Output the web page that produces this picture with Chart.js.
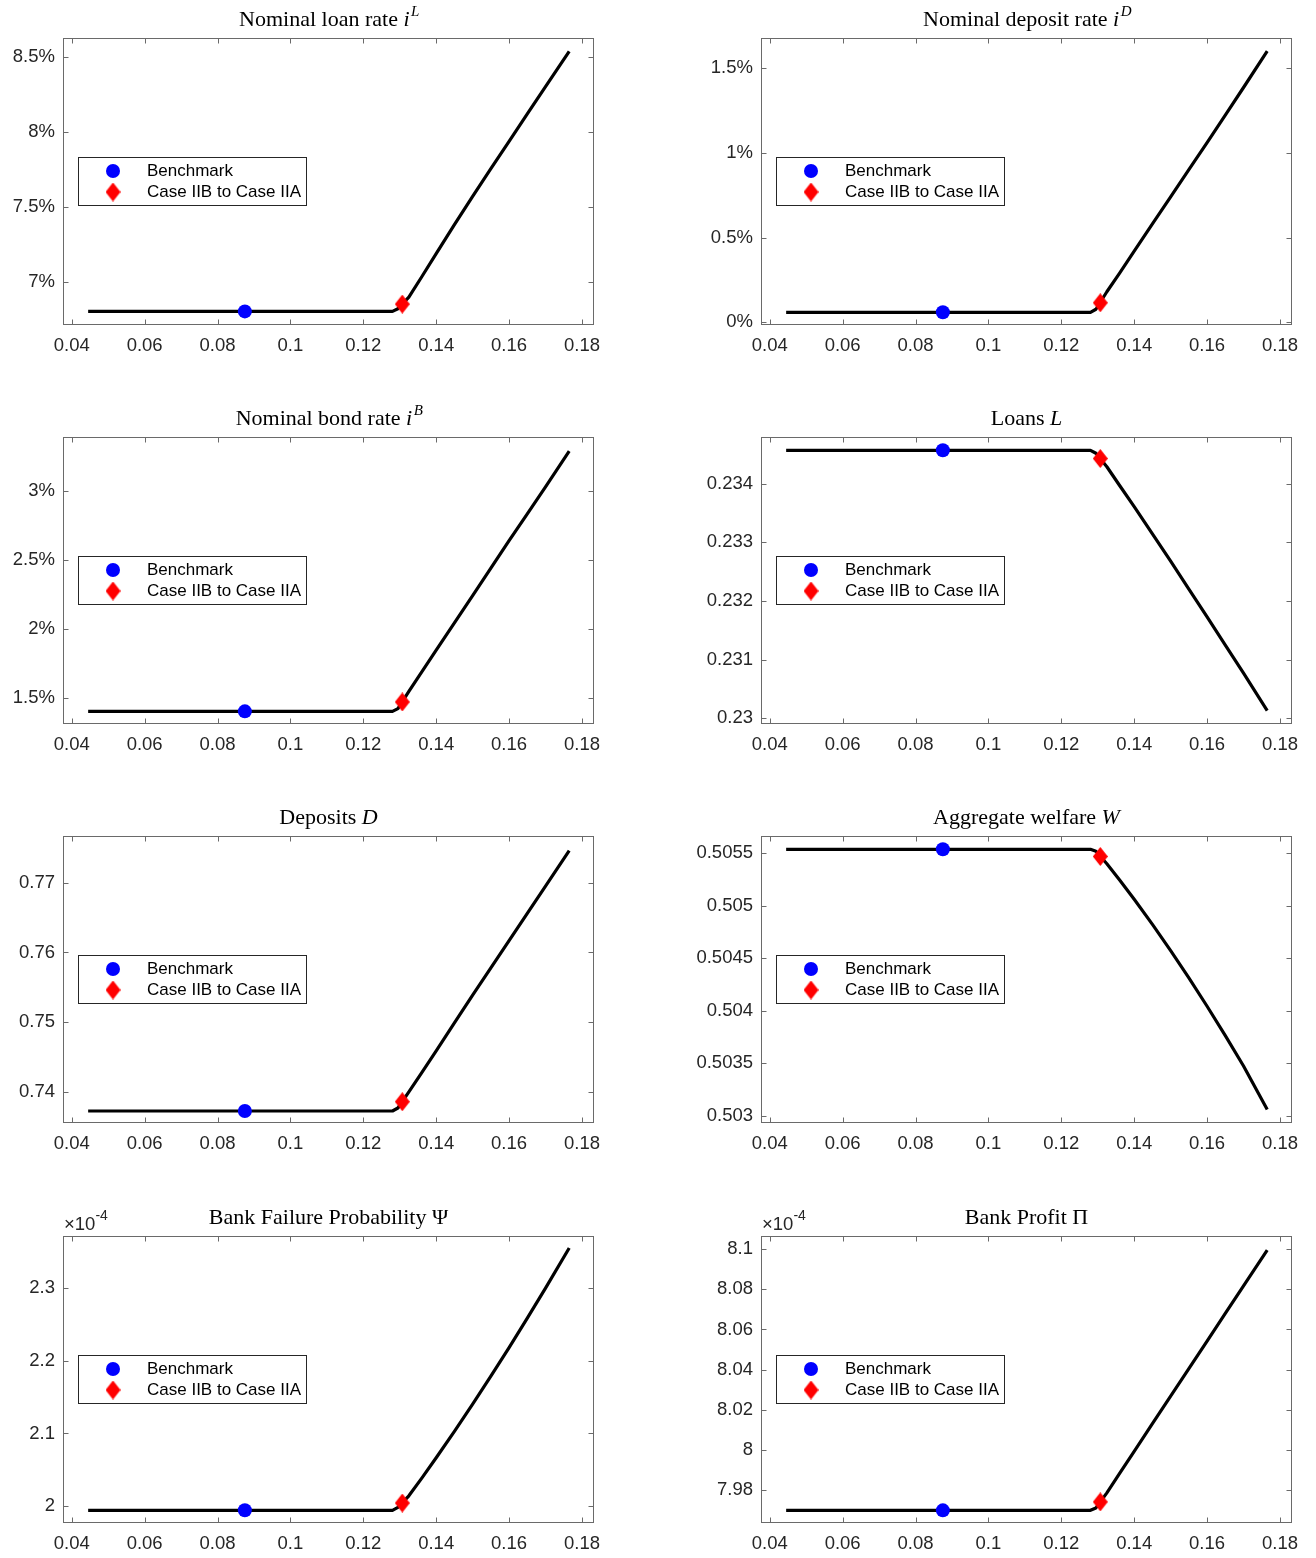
<!DOCTYPE html>
<html>
<head>
<meta charset="utf-8">
<title>Policy rate experiments</title>
<script src="https://cdn.jsdelivr.net/npm/chart.js@4.4.1/dist/chart.umd.min.js"></script>
<style>
  body { margin: 0; background: #fff; }
  #wrap { position: relative; width: 1316px; height: 1558px; }
  #wrap canvas { position: absolute; }
</style>
</head>
<body>
<div id="wrap"></div>
<script>
// common horizontal grid for all panels
const xGrid = [0.0445, 0.06, 0.08, 0.10, 0.12, 0.128, 0.1295, 0.1325, 0.136, 0.14, 0.145, 0.15, 0.155, 0.16, 0.165, 0.17, 0.1765];

// one series per panel (rates in %, Psi and Pi in units of 1e-4)
const loanRate    = [6.80, 6.80, 6.80, 6.80, 6.80, 6.80, 6.818, 6.895, 7.03, 7.186, 7.38, 7.57, 7.755, 7.938, 8.121, 8.304, 8.54];
const depositRate = [0.059, 0.059, 0.059, 0.059, 0.059, 0.059, 0.077, 0.18, 0.29, 0.42, 0.58, 0.74, 0.90, 1.06, 1.222, 1.385, 1.60];
const bondRate    = [1.40, 1.40, 1.40, 1.40, 1.40, 1.40, 1.42, 1.545, 1.685, 1.845, 2.043, 2.24, 2.44, 2.64, 2.835, 3.03, 3.29];
const loans       = [0.23457, 0.23457, 0.23457, 0.23457, 0.23457, 0.23457, 0.23452, 0.23429, 0.23397, 0.23361, 0.233145, 0.23268, 0.232205, 0.23173, 0.23125, 0.23077, 0.23013];
const deposits    = [0.73727, 0.73727, 0.73727, 0.73727, 0.73727, 0.73727, 0.7377, 0.7400, 0.74275, 0.7459, 0.7499, 0.7539, 0.7578, 0.7617, 0.7656, 0.7695, 0.7746];
const welfare     = [0.505538, 0.505538, 0.505538, 0.505538, 0.505538, 0.505538, 0.50552, 0.50540, 0.505246, 0.505062, 0.504822, 0.504572, 0.504312, 0.504042, 0.503762, 0.503472, 0.503058];
const failureProb = [1.994, 1.994, 1.994, 1.994, 1.994, 1.994, 1.998, 2.014, 2.038, 2.0664, 2.1029, 2.1404, 2.1789, 2.2184, 2.2589, 2.3004, 2.3557];
const profit      = [7.970, 7.970, 7.970, 7.970, 7.970, 7.970, 7.9712, 7.9787, 7.9884, 7.9993, 8.0131, 8.0268, 8.0405, 8.0542, 8.0680, 8.0817, 8.0995];

// marked points: benchmark and the Case IIB -> Case IIA switch
const benchmarkX = 0.0875;
const switchX = 0.1307;
const benchmarkY = [6.80, 0.059, 1.40, 0.23457, 0.73727, 0.505538, 1.994, 7.970];
const switchY    = [6.849, 0.115, 1.468, 0.23443, 0.7386, 0.50547, 2.004, 7.9742];

// tick values
const xTicks = [0.04, 0.06, 0.08, 0.10, 0.12, 0.14, 0.16, 0.18];
const loanRateTicks = [7, 7.5, 8, 8.5];
const depositRateTicks = [0, 0.5, 1, 1.5];
const bondRateTicks = [1.5, 2, 2.5, 3];
const loansTicks = [0.23, 0.231, 0.232, 0.233, 0.234];
const depositsTicks = [0.74, 0.75, 0.76, 0.77];
const welfareTicks = [0.503, 0.5035, 0.504, 0.5045, 0.505, 0.5055];
const failureTicks = [2, 2.1, 2.2, 2.3];
const profitTicks = [7.98, 8, 8.02, 8.04, 8.06, 8.08, 8.1];

const legendLabels = ["Benchmark", "Case IIB to Case IIA"];

const AXIS_COLOR = "#262626";
const FRAME_COLOR = "#6a6a6a";
const SANS = "'Liberation Sans', Arial, Helvetica, sans-serif";
const SERIF = "'Liberation Serif', 'Times New Roman', serif";
const TICK_SIZE = 18.5;

const num = v => String(parseFloat(v.toFixed(5)));
const pct = v => num(v) + "%";

// red diamond marker (taller than wide)
function makeDiamond(w, h, color) {
    const c = document.createElement("canvas");
    c.width = w;
    c.height = h;
    const g = c.getContext("2d");
    g.fillStyle = color;
    g.beginPath();
    g.moveTo(w / 2, 0);
    g.lineTo(w, h / 2);
    g.lineTo(w / 2, h);
    g.lineTo(0, h / 2);
    g.closePath();
    g.fill();
    return c;
}
const diamondImg = makeDiamond(15, 19, "#ff0000");

const panels = [
    { title: [["Nominal loan rate ", "rm"], ["i", "it"], ["L", "sup"]], series: loanRate, ticks: loanRateTicks, min: 6.709, max: 8.629, fmt: pct },
    { title: [["Nominal deposit rate ", "rm"], ["i", "it"], ["D", "sup"]], series: depositRate, ticks: depositRateTicks, min: -0.016, max: 1.677, fmt: pct },
    { title: [["Nominal bond rate ", "rm"], ["i", "it"], ["B", "sup"]], series: bondRate, ticks: bondRateTicks, min: 1.308, max: 3.393, fmt: pct },
    { title: [["Loans ", "rm"], ["L", "it"]], series: loans, ticks: loansTicks, min: 0.229903, max: 0.234797, fmt: num },
    { title: [["Deposits ", "rm"], ["D", "it"]], series: deposits, ticks: depositsTicks, min: 0.73555, max: 0.7767, fmt: num },
    { title: [["Aggregate welfare ", "rm"], ["W", "it"]], series: welfare, ticks: welfareTicks, min: 0.502929, max: 0.505665, fmt: num },
    { title: [["Bank Failure Probability \u03A8", "rm"]], series: failureProb, ticks: failureTicks, min: 1.9765, max: 2.3722, fmt: num, exponent: "-4" },
    { title: [["Bank Profit \u03A0", "rm"]], series: profit, ticks: profitTicks, min: 7.9637, max: 8.1065, fmt: num, exponent: "-4" }
];

const titleFonts = {
    rm: "22px " + SERIF,
    it: "italic 22px " + SERIF,
    sup: "italic 15px " + SERIF
};

function drawTitle(ctx, parts, cx, baseline) {
    const widths = parts.map(p => {
        ctx.font = titleFonts[p[1]];
        return ctx.measureText(p[0]).width;
    });
    const total = widths.reduce((a, b) => a + b, 0);
    let x = cx - total / 2;
    ctx.fillStyle = "#000";
    ctx.textAlign = "left";
    ctx.textBaseline = "alphabetic";
    parts.forEach((p, i) => {
        ctx.font = titleFonts[p[1]];
        ctx.fillText(p[0], x, p[1] === "sup" ? baseline - 10 : baseline);
        x += widths[i] + (p[1] === "it" ? 1.5 : 0);
    });
}

// MATLAB-like frame: box, inward ticks on all sides, title, legend, exponent
const framePlugin = {
    id: "frame",
    afterDraw(chart, args, opts) {
        const ctx = chart.ctx;
        const a = chart.chartArea;
        const xs = chart.scales.x;
        const ys = chart.scales.y;
        const tl = 5;

        ctx.save();
        ctx.strokeStyle = FRAME_COLOR;
        ctx.lineWidth = 1;
        const L = Math.round(a.left) + 0.5, R = Math.round(a.right) - 0.5;
        const T = Math.round(a.top) + 0.5, B = Math.round(a.bottom) - 0.5;
        ctx.strokeRect(L, T, R - L, B - T);

        ctx.beginPath();
        xs.ticks.forEach(t => {
            const px = Math.round(xs.getPixelForValue(t.value)) + 0.5;
            ctx.moveTo(px, B); ctx.lineTo(px, B - tl);
            ctx.moveTo(px, T); ctx.lineTo(px, T + tl);
        });
        ys.ticks.forEach(t => {
            const py = Math.round(ys.getPixelForValue(t.value)) + 0.5;
            ctx.moveTo(L, py); ctx.lineTo(L + tl, py);
            ctx.moveTo(R, py); ctx.lineTo(R - tl, py);
        });
        ctx.stroke();

        drawTitle(ctx, opts.title, (a.left + a.right) / 2, a.top - 12);

        if (opts.exponent) {
            ctx.fillStyle = AXIS_COLOR;
            ctx.textAlign = "left";
            ctx.textBaseline = "alphabetic";
            ctx.font = TICK_SIZE + "px " + SANS;
            ctx.fillText("\u00D710", a.left + 1, a.top - 6);
            const w = ctx.measureText("\u00D710").width;
            ctx.font = "14px " + SANS;
            ctx.fillText(opts.exponent, a.left + 1 + w, a.top - 16);
        }

        // legend box
        const lx = a.left + 15, ly = a.top + 119, lw = 228, lh = 48;
        ctx.fillStyle = "#fff";
        ctx.fillRect(lx, ly, lw, lh);
        ctx.strokeStyle = AXIS_COLOR;
        ctx.strokeRect(Math.round(lx) + 0.5, Math.round(ly) + 0.5, lw, lh);

        ctx.fillStyle = "#0000ff";
        ctx.beginPath();
        ctx.arc(lx + 35, ly + 14, 7, 0, Math.PI * 2);
        ctx.fill();
        ctx.drawImage(diamondImg, lx + 35 - diamondImg.width / 2, ly + 35 - diamondImg.height / 2);

        ctx.fillStyle = "#000";
        ctx.font = "17px " + SANS;
        ctx.textBaseline = "middle";
        ctx.fillText(legendLabels[0], lx + 69, ly + 14);
        ctx.fillText(legendLabels[1], lx + 69, ly + 35);
        ctx.restore();
    }
};

// column geometry: canvas left edge, canvas width, y-axis width, right padding
const columns = [
    { left: 0, width: 612, axisW: 63, padR: 18 },
    { left: 650, width: 660, axisW: 111, padR: 18 }
];
const rowTops = [0, 399, 798, 1198];

function renderPanel(spec, k) {
    const col = columns[k % 2];
    const row = Math.floor(k / 2);
    const canvas = document.createElement("canvas");
    canvas.width = col.width;
    canvas.height = 399;
    canvas.style.left = col.left + "px";
    canvas.style.top = rowTops[row] + "px";
    canvas.style.width = col.width + "px";
    canvas.style.height = "399px";
    document.getElementById("wrap").appendChild(canvas);

    const linePoints = xGrid.map((x, i) => ({ x: x, y: spec.series[i] }));

    return new Chart(canvas.getContext("2d"), {
        type: "line",
        data: {
            datasets: [
                {
                    label: legendLabels[0],
                    data: [{ x: benchmarkX, y: benchmarkY[k] }],
                    showLine: false,
                    pointStyle: "circle",
                    pointRadius: 7,
                    pointBackgroundColor: "#0000ff",
                    pointBorderWidth: 0,
                    order: 1
                },
                {
                    label: legendLabels[1],
                    data: [{ x: switchX, y: switchY[k] }],
                    showLine: false,
                    pointStyle: diamondImg,
                    pointRadius: 8,
                    order: 2
                },
                {
                    label: "curve",
                    data: linePoints,
                    borderColor: "#000",
                    borderWidth: 3.2,
                    pointRadius: 0,
                    tension: 0,
                    borderJoinStyle: "round",
                    borderCapStyle: "butt",
                    order: 3
                }
            ]
        },
        options: {
            responsive: false,
            animation: false,
            events: [],
            layout: { padding: { left: 0, right: col.padR, top: 38, bottom: 34 } },
            plugins: {
                legend: { display: false },
                tooltip: { enabled: false },
                title: { display: false },
                frame: { title: spec.title, exponent: spec.exponent }
            },
            scales: {
                x: {
                    type: "linear",
                    min: 0.0376,
                    max: 0.1833,
                    grid: { display: false, drawTicks: false, tickLength: 0 },
                    border: { display: false },
                    afterBuildTicks: s => { s.ticks = xTicks.map(v => ({ value: v })); },
                    afterFit: s => { s.height = 40; },
                    ticks: {
                        autoSkip: false,
                        maxRotation: 0,
                        padding: 10,
                        color: AXIS_COLOR,
                        font: { family: SANS, size: TICK_SIZE },
                        callback: v => num(v)
                    }
                },
                y: {
                    type: "linear",
                    min: spec.min,
                    max: spec.max,
                    grid: { display: false, drawTicks: false, tickLength: 0 },
                    border: { display: false },
                    afterBuildTicks: s => { s.ticks = spec.ticks.map(v => ({ value: v })); },
                    afterFit: s => { s.width = col.axisW; },
                    ticks: {
                        autoSkip: false,
                        padding: 8,
                        color: AXIS_COLOR,
                        font: { family: SANS, size: TICK_SIZE },
                        callback: v => spec.fmt(v)
                    }
                }
            }
        },
        plugins: [framePlugin]
    });
}

panels.forEach(renderPanel);
</script>
</body>
</html>
